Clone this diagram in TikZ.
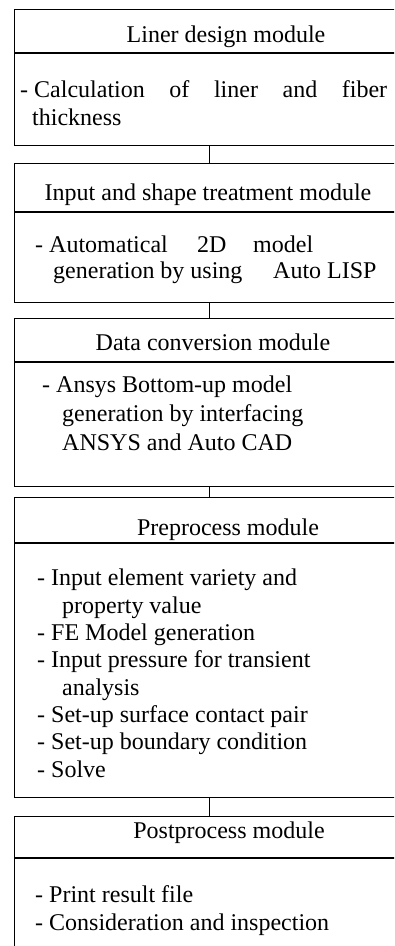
\documentclass[tikz,border=0pt]{standalone}
\usepackage{fontspec}
\setmainfont{Liberation Serif}
\usepackage{tikz}

\tikzset{
	module/.style={draw, line width=1.3pt, rectangle, anchor=north west, minimum width=390pt, inner sep=0pt},
	headline/.style={line width=1.3pt},
	link/.style={line width=1pt},
	title/.style={anchor=base, inner sep=0pt, font=\fontsize{24}{28}\selectfont},
	body/.style={anchor=base west, align=left, inner sep=0pt}
}

\begin{document}
\begin{tikzpicture}[x=1pt,y=-1pt]

	\useasboundingbox (0,0) rectangle (394,946);
	\clip (0,0) rectangle (394,946);

	% the five module boxes, left edge at 14
	\node[module, minimum height=136pt] (b1) at (14,9) {};
	\node[module, minimum height=139pt] (b2) at (14,163) {};
	\node[module, minimum height=168pt] (b3) at (14,318) {};
	\node[module, minimum height=300pt] (b4) at (14,497) {};
	\node[module, minimum height=160pt] (b5) at (14,816) {};

	\foreach \b/\h in {b1/44, b2/49, b3/44, b4/46, b5/42}{
		\draw[headline] ([yshift=-\h pt]\b.north west) -- ([yshift=-\h pt]\b.north east);
	}

	\foreach \a/\b in {b1/b2, b2/b3, b3/b4, b4/b5}{
		\draw[link] (\a.south) -- (\b.north);
	}

	\node[title] (h1) at (226,42) {Liner design module};
	\node[title] (h2) at (208,200) {Input and shape treatment module};
	\node[title] (h3) at (213,350) {Data conversion module};
	\node[title] (h4) at (228,535) {Preprocess module};
	\node[title] (h5) at (229,838) {Postprocess module};

	% body texts, placed at the baseline of their last line
	\node[body, font=\fontsize{24}{28}\selectfont] (t1) at (20,125)
		{\hbox to 367pt{- Calculation\hfill of\hfill liner\hfill and\hfill fiber}\\
		 \hspace*{12pt}thickness};
	\node[body, font=\fontsize{24}{26}\selectfont] (t2) at (35,278)
		{\makebox[162pt][l]{- Automatical}\makebox[56pt][l]{2D}model\\
		 \hspace*{18pt}\makebox[220pt][l]{generation by using}Auto LISP};
	\node[body, font=\fontsize{24}{29}\selectfont] (t3) at (42,450)
		{- Ansys Bottom-up model\\
		 \hspace*{20pt}generation by interfacing\\
		 \hspace*{20pt}ANSYS and Auto CAD};
	\node[body, font=\fontsize{24}{27.3}\selectfont] (t4) at (37,777)
		{- Input element variety and\\
		 \hspace*{25pt}property value\\
		 - FE Model generation\\
		 - Input pressure for transient\\
		 \hspace*{25pt}analysis\\
		 - Set-up surface contact pair\\
		 - Set-up boundary condition\\
		 - Solve};
	\node[body, font=\fontsize{24}{28}\selectfont] (t5) at (35,930)
		{- Print result file\\
		 - Consideration and inspection};

\end{tikzpicture}
\end{document}
